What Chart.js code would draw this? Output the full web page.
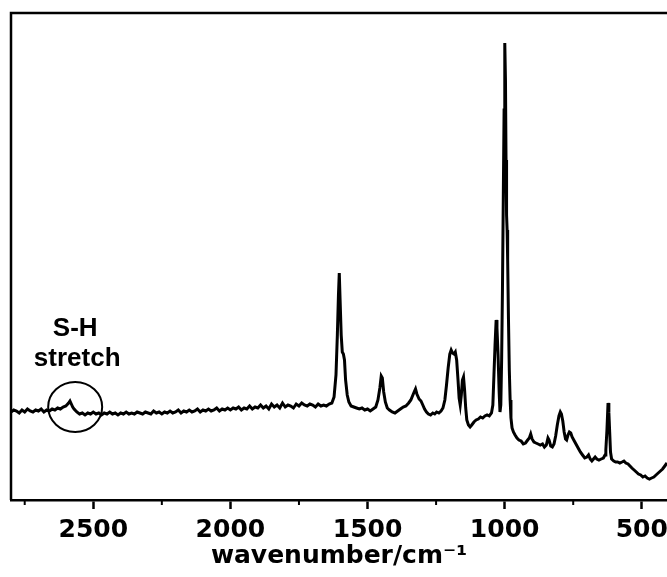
<!DOCTYPE html>
<html>
<head>
<meta charset="utf-8">
<script src="https://cdn.jsdelivr.net/npm/chart.js@4.4.1/dist/chart.umd.min.js"></script>
<style>
  html, body { margin: 0; padding: 0; background: #fff; }
</style>
</head>
<body>
<canvas id="raman" width="667" height="577"></canvas>
<script>
// Raman shift (cm-1) and intensity (arb. units)
const wavenumbers = [
  2800, 2790, 2780, 2770, 2760, 2750, 2740, 2730, 2720, 2710, 2700, 2690, 2680, 2670, 2660, 2650,
  2640, 2630, 2620, 2610, 2600, 2590, 2585, 2580, 2575, 2570, 2560, 2550, 2540, 2530, 2520, 2510,
  2500, 2490, 2480, 2470, 2460, 2450, 2440, 2430, 2420, 2410, 2400, 2390, 2380, 2370, 2360, 2350,
  2340, 2330, 2320, 2310, 2300, 2290, 2280, 2270, 2260, 2250, 2240, 2230, 2220, 2210, 2200, 2190,
  2180, 2170, 2160, 2150, 2140, 2130, 2120, 2110, 2100, 2090, 2080, 2070, 2060, 2050, 2040, 2030,
  2020, 2010, 2000, 1990, 1980, 1970, 1960, 1950, 1940, 1930, 1920, 1910, 1900, 1890, 1880, 1870,
  1860, 1850, 1840, 1830, 1820, 1810, 1800, 1790, 1780, 1770, 1760, 1750, 1740, 1730, 1720, 1710,
  1700, 1690, 1680, 1670, 1660, 1650, 1640, 1630,
  1622, 1615, 1610, 1606, 1603, 1600, 1596, 1592, 1588, 1584, 1580, 1574, 1568, 1560, 1550, 1540,
  1530, 1520, 1510, 1500, 1490, 1480, 1470, 1462, 1455, 1450, 1446, 1441, 1435, 1428, 1420, 1410,
  1400, 1390, 1380, 1370, 1360, 1350, 1342, 1336, 1330, 1325, 1320, 1312, 1305, 1300, 1292, 1285,
  1278, 1270, 1262, 1255, 1248, 1240, 1232, 1225, 1218, 1212, 1206, 1200, 1195, 1190, 1185, 1180,
  1175, 1170, 1166, 1162, 1158, 1154, 1150, 1146, 1142, 1138, 1132, 1126, 1120, 1112, 1104, 1096,
  1088, 1080, 1072, 1064, 1056, 1048, 1043, 1039, 1035, 1031, 1028, 1024, 1020, 1017, 1014, 1011,
  1008, 1005, 1002, 1000, 999, 997, 995, 993, 991, 989, 986, 983, 980, 977, 973, 968,
  962, 955, 948, 940, 932, 924, 916, 910, 905, 900, 893, 886, 878, 870, 862, 855,
  848, 842, 838, 832, 826, 820, 814, 808, 802, 797, 793, 788, 783, 778, 774, 769,
  764, 759, 754, 748, 740, 732, 724, 716, 708, 700, 694, 688, 682, 676, 670, 664,
  656, 648, 640, 634, 631, 627, 623, 620, 617, 614, 610, 602, 595, 588, 580, 572,
  565, 558, 550, 543, 536, 528, 520, 512, 504, 496, 488, 480, 472, 464, 456, 448,
  440, 432, 424, 416, 408
];
const intensity = [
  88, 90, 89, 87, 90, 88, 91, 89, 88, 90, 89, 91, 88, 90, 89, 91,
  90, 92, 91, 93, 94, 97, 99, 96, 93, 91, 88, 86, 87, 85, 87, 86,
  88, 86, 87, 85, 87, 86, 88, 86, 87, 85, 87, 86, 88, 86, 87, 86,
  88, 87, 86, 88, 87, 86, 89, 87, 88, 86, 88, 87, 89, 87, 88, 90,
  87, 89, 88, 90, 88, 89, 91, 88, 90, 89, 91, 89, 90, 92, 89, 91,
  90, 92, 90, 92, 91, 93, 90, 92, 91, 94, 91, 93, 92, 95, 92, 94,
  91, 96, 93, 95, 92, 97, 93, 95, 94, 92, 96, 94, 97, 95, 94, 96,
  95, 93, 96, 94, 95, 94, 96, 97,
  103, 125, 165, 205, 227, 200, 165, 148, 146, 140, 120, 105, 98, 94, 93, 92,
  91, 92, 90, 91, 89, 91, 93, 100, 112, 124, 122, 108, 98, 92, 90, 88,
  87, 89, 91, 93, 94, 97, 100, 104, 108, 111, 106, 101, 99, 96, 91, 88,
  86, 85, 87, 86, 88, 87, 89, 92, 100, 115, 132, 146, 150, 147, 146, 148,
  140, 120, 102, 95, 105, 120, 123, 110, 92, 80, 75, 73, 75, 78, 80, 81,
  83, 82, 84, 85, 84, 87, 95, 125, 155, 180, 172, 145, 108, 88, 95, 140,
  210, 300, 390, 445, 457, 420, 340, 285, 270, 240, 180, 130, 100, 82, 72, 68,
  65, 62, 60, 59, 56, 57, 60, 62, 66, 61, 58, 57, 56, 55, 56, 53,
  55, 62, 60, 54, 53, 56, 64, 75, 84, 88, 86, 79, 68, 61, 60, 65,
  68, 67, 63, 60, 56, 52, 48, 45, 42, 43, 45, 41, 39, 41, 43, 41,
  40, 41, 42, 45, 50, 70, 97, 88, 68, 48, 41, 39, 38, 38, 37, 38,
  39, 37, 36, 34, 32, 30, 28, 26, 25, 23, 24, 22, 21, 22, 23, 25,
  27, 29, 31, 34, 37
];
const majorTicks = [2500, 2000, 1500, 1000, 500];
const minorTicks = [2750, 2250, 1750, 1250, 750];
const noteLines = ['S-H', 'stretch'];
const notePoint = { x: 2566, y: 93 };

const framePlugin = {
  id: 'frame',
  afterDraw(chart) {
    const { ctx, chartArea: a, scales: { x, y } } = chart;
    ctx.save();
    ctx.strokeStyle = '#000';
    ctx.lineWidth = 2.5;
    ctx.beginPath();
    ctx.moveTo(a.left, a.bottom);
    ctx.lineTo(a.left, a.top);
    ctx.lineTo(a.right + 5, a.top);
    ctx.stroke();

    // short minor ticks under the axis
    ctx.lineWidth = 2;
    minorTicks.forEach(v => {
      const px = x.getPixelForValue(v);
      ctx.beginPath();
      ctx.moveTo(px, a.bottom);
      ctx.lineTo(px, a.bottom + 5);
      ctx.stroke();
    });

    // S-H stretch note with its circle
    const cx = x.getPixelForValue(notePoint.x);
    const cy = y.getPixelForValue(notePoint.y);
    ctx.beginPath();
    ctx.ellipse(cx, cy, 27, 25, 0, 0, Math.PI * 2);
    ctx.stroke();
    ctx.fillStyle = '#000';
    ctx.font = 'bold 26px "Liberation Sans", Arial, sans-serif';
    ctx.textAlign = 'center';
    ctx.textBaseline = 'middle';
    ctx.fillText(noteLines[0], cx, cy - 78);
    ctx.fillText(noteLines[1], cx + 2, cy - 48);
    ctx.restore();
  }
};

new Chart(document.getElementById('raman'), {
  type: 'line',
  data: {
    datasets: [{
      data: wavenumbers.map((w, i) => ({ x: w, y: intensity[i] })),
      borderColor: '#000',
      borderWidth: 3,
      pointRadius: 0,
      tension: 0
    }]
  },
  options: {
    responsive: false,
    animation: false,
    layout: { padding: { left: 11, top: 13, right: 0, bottom: 0 } },
    plugins: { legend: { display: false }, tooltip: { enabled: false } },
    scales: {
      x: {
        type: 'linear',
        reverse: true,
        min: 408,
        max: 2800,
        afterBuildTicks: axis => { axis.ticks = majorTicks.map(v => ({ value: v })); },
        afterFit: axis => { axis.height = 77; axis.paddingLeft = 0; axis.paddingRight = 0; },
        grid: { drawOnChartArea: false, drawTicks: true, tickLength: 9, tickWidth: 2.5, tickColor: '#000' },
        border: { display: true, color: '#000', width: 2.5 },
        ticks: {
          color: '#000',
          autoSkip: false,
          maxRotation: 0,
          padding: 6,
          callback: v => String(v),
          font: { family: 'DejaVu Sans', weight: 'bold', size: 25 }
        },
        title: {
          display: true,
          text: 'wavenumber/cm⁻¹',
          color: '#000',
          font: { family: 'DejaVu Sans', weight: 'bold', size: 25 },
          padding: { top: 0, bottom: 6 }
        }
      },
      y: { display: false, min: 0, max: 487 }
    }
  },
  plugins: [framePlugin]
});
</script>
</body>
</html>
